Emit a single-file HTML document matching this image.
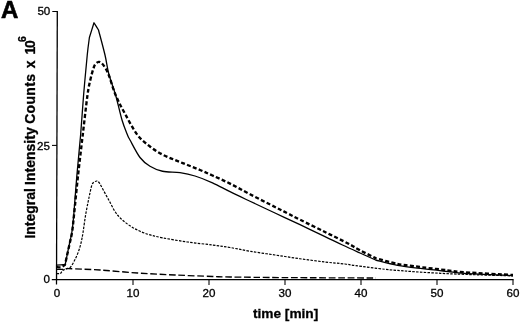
<!DOCTYPE html>
<html><head><meta charset="utf-8">
<style>
html,body{margin:0;padding:0;background:#fff;}
body{width:520px;height:322px;overflow:hidden;}
svg{display:block;}
text{font-family:"Liberation Sans",Arial,sans-serif;fill:#000;}
.b{font-weight:bold;}
.t{font-size:11.6px;}
</style></head><body>
<svg width="520" height="322" viewBox="0 0 520 322">
<rect width="520" height="322" fill="#fff"/>
<g stroke="#000" stroke-width="1.05" fill="none">
<path stroke-width="1.3" d="M57.3,11.5L56.5,284.5"/>
<path stroke-width="1.15" d="M51.8,279.6H513.6"/>
<path d="M52.3,11.5H57.9"/>
<path d="M52,145.4H57"/>
<path d="M133,279.5V285M209,279.5V285M285,279.5V285M361,279.5V285M437,279.5V285M513,279.5V285"/>
</g>
<g class="t" stroke="#000" stroke-width="0.3">
<text x="50.3" y="15.2" text-anchor="end">50</text>
<text x="49.9" y="149.5" text-anchor="end">25</text>
<text x="50" y="283.4" text-anchor="end">0</text>
<text x="57" y="296.8" text-anchor="middle">0</text>
<text x="133" y="296.8" text-anchor="middle">10</text>
<text x="209" y="296.8" text-anchor="middle">20</text>
<text x="285" y="296.8" text-anchor="middle">30</text>
<text x="361" y="296.8" text-anchor="middle">40</text>
<text x="437" y="296.8" text-anchor="middle">50</text>
<text x="513" y="296.8" text-anchor="middle">60</text>
</g>
<text class="b" x="0.9" y="17.9" font-size="24" stroke="#000" stroke-width="0.6">A</text>
<text class="b" x="285.6" y="317.9" font-size="13.7" text-anchor="middle" stroke="#000" stroke-width="0.3">time [min]</text>
<g class="b" font-size="14" stroke="#000" stroke-width="0.3">
<text transform="translate(34.9,238.6) rotate(-90)">Integral</text>
<text transform="translate(34.9,184.9) rotate(-90)">Intensity</text>
<text transform="translate(34.9,123.8) rotate(-90)" letter-spacing="0.3">Counts</text>
<text transform="translate(34.9,68.3) rotate(-90)">x</text>
<text transform="translate(34.9,54.4) rotate(-90)" letter-spacing="-1.3">10</text>
<text transform="translate(26.4,42.1) rotate(-90)" font-size="10.5">6</text>
</g>
<g fill="none" stroke="#000" stroke-linejoin="round">
<path stroke-width="1.35" stroke-dasharray="6.7 2.7" d="M56.50,269.30 C57.42,269.32 59.96,269.50 62.00,269.40 C64.04,269.30 62.42,268.60 68.75,268.70 C75.08,268.80 88.54,269.28 100.00,270.00 C111.46,270.72 125.00,272.17 137.50,273.00 C150.00,273.83 162.50,274.42 175.00,275.00 C187.50,275.58 203.33,276.17 212.50,276.50 C221.67,276.83 217.92,276.82 230.00,277.00 C242.08,277.18 260.67,277.43 285.00,277.60 C309.33,277.77 360.83,277.93 376.00,278.00"/>
<path stroke-width="1.2" stroke-dasharray="2.5 1.3" d="M56.50,273.60 C57.17,273.58 59.83,273.52 60.50,273.50 C60.92,272.97 62.04,271.08 63.00,270.30 C63.96,269.52 64.98,269.35 66.25,268.80 C67.52,268.25 69.14,268.55 70.60,267.00 C72.06,265.45 73.64,262.21 75.00,259.50 C76.36,256.79 77.71,253.67 78.75,250.75 C79.79,247.83 80.53,245.12 81.25,242.00 C81.97,238.88 82.38,236.50 83.10,232.00 C83.82,227.50 84.66,220.54 85.60,215.00 C86.54,209.46 87.70,203.75 88.75,198.75 C89.80,193.75 90.94,187.79 91.90,185.00 C92.86,182.21 93.67,182.67 94.50,182.00 C95.33,181.33 96.15,180.92 96.90,181.00 C97.65,181.08 98.28,181.62 99.00,182.50 C99.72,183.38 99.62,183.33 101.25,186.25 C102.88,189.17 106.04,195.21 108.75,200.00 C111.46,204.79 113.96,210.70 117.50,215.00 C121.04,219.30 125.42,222.75 130.00,225.80 C134.58,228.85 139.58,231.30 145.00,233.30 C150.42,235.30 155.42,236.35 162.50,237.80 C169.58,239.25 179.17,240.80 187.50,242.00 C195.83,243.20 205.42,244.08 212.50,245.00 C219.58,245.92 223.75,246.46 230.00,247.50 C236.25,248.54 242.50,250.00 250.00,251.25 C257.50,252.50 266.67,253.75 275.00,255.00 C283.33,256.25 291.67,257.58 300.00,258.75 C308.33,259.92 317.50,261.12 325.00,262.00 C332.50,262.88 340.00,263.42 345.00,264.00 C350.00,264.58 348.33,264.62 355.00,265.50 C361.67,266.38 377.50,268.45 385.00,269.30 C392.50,270.15 395.83,270.25 400.00,270.60 C404.17,270.95 404.17,271.00 410.00,271.40 C415.83,271.80 425.83,272.50 435.00,273.00 C444.17,273.50 452.00,273.92 465.00,274.40 C478.00,274.88 505.00,275.65 513.00,275.90"/>
<path stroke-width="2.35" stroke-dasharray="4 2.3" d="M56.50,267.00 C57.25,267.03 59.58,267.57 61.00,267.20 C62.42,266.83 64.33,265.20 65.00,264.80 C65.65,261.83 67.72,252.47 68.90,247.00 C70.08,241.53 71.25,237.33 72.10,232.00 C72.95,226.67 73.00,224.50 74.00,215.00 C75.00,205.50 76.64,188.33 78.10,175.00 C79.56,161.67 81.18,148.33 82.75,135.00 C84.32,121.67 86.19,104.38 87.50,95.00 C88.81,85.62 89.56,83.33 90.60,78.75 C91.64,74.17 92.85,70.04 93.75,67.50 C94.65,64.96 95.17,64.43 96.00,63.50 C96.83,62.57 97.83,61.98 98.75,61.90 C99.67,61.82 100.46,62.07 101.50,63.00 C102.54,63.93 103.79,65.50 105.00,67.50 C106.21,69.50 106.98,70.42 108.75,75.00 C110.52,79.58 112.89,88.54 115.60,95.00 C118.31,101.46 121.35,107.08 125.00,113.75 C128.65,120.42 133.33,129.54 137.50,135.00 C141.67,140.46 145.83,143.23 150.00,146.50 C154.17,149.77 158.33,152.35 162.50,154.60 C166.67,156.85 170.83,158.27 175.00,160.00 C179.17,161.73 183.33,163.33 187.50,165.00 C191.67,166.67 195.83,168.25 200.00,170.00 C204.17,171.75 207.50,173.23 212.50,175.50 C217.50,177.77 223.75,180.48 230.00,183.60 C236.25,186.72 242.50,190.30 250.00,194.20 C257.50,198.10 268.75,203.82 275.00,207.00 C281.25,210.18 283.33,211.18 287.50,213.30 C291.67,215.42 293.75,216.58 300.00,219.70 C306.25,222.82 317.08,228.08 325.00,232.00 C332.92,235.92 341.67,240.15 347.50,243.20 C353.33,246.25 355.32,247.82 360.00,250.30 C364.68,252.78 373.00,256.80 375.60,258.10 C379.25,259.08 391.77,262.75 397.50,264.00 C403.23,265.25 405.83,265.05 410.00,265.60 C414.17,266.15 416.25,266.52 422.50,267.30 C428.75,268.08 440.42,269.47 447.50,270.30 C454.58,271.13 454.08,271.52 465.00,272.30 C475.92,273.08 505.00,274.55 513.00,275.00"/>
<path stroke-width="1.3" d="M56.50,265.10 C57.95,265.00 63.75,264.60 65.20,264.50 C65.79,261.58 67.63,252.42 68.75,247.00 C69.87,241.58 71.07,237.33 71.90,232.00 C72.73,226.67 72.92,224.50 73.75,215.00 C74.58,205.50 75.76,188.33 76.90,175.00 C78.04,161.67 79.48,148.33 80.60,135.00 C81.72,121.67 82.49,108.33 83.60,95.00 C84.71,81.67 86.28,64.58 87.25,55.00 C88.22,45.42 89.04,40.42 89.40,37.50 C90.17,35.04 93.23,25.21 94.00,22.75 C94.75,23.96 97.75,28.79 98.50,30.00 C99.58,34.17 103.29,47.71 105.00,55.00 C106.71,62.29 106.98,67.08 108.75,73.75 C110.52,80.42 113.39,87.29 115.60,95.00 C117.81,102.71 120.02,113.33 122.00,120.00 C123.98,126.67 126.17,131.67 127.50,135.00 C128.83,138.33 127.92,136.25 130.00,140.00 C132.08,143.75 136.67,153.12 140.00,157.50 C143.33,161.88 146.25,163.96 150.00,166.25 C153.75,168.54 157.50,170.18 162.50,171.25 C167.50,172.32 174.58,171.91 180.00,172.70 C185.42,173.49 189.58,174.32 195.00,176.00 C200.42,177.68 206.67,180.18 212.50,182.80 C218.33,185.42 223.75,188.62 230.00,191.70 C236.25,194.77 242.50,197.70 250.00,201.25 C257.50,204.80 266.67,209.09 275.00,213.00 C283.33,216.91 291.67,220.77 300.00,224.70 C308.33,228.63 317.92,233.22 325.00,236.60 C332.08,239.98 336.67,242.27 342.50,245.00 C348.33,247.73 354.48,250.50 360.00,253.00 C365.52,255.50 373.00,258.83 375.60,260.00 C379.25,260.88 389.68,263.85 397.50,265.30 C405.32,266.75 414.17,267.67 422.50,268.70 C430.83,269.73 440.42,270.73 447.50,271.50 C454.58,272.27 454.08,272.62 465.00,273.30 C475.92,273.98 505.00,275.22 513.00,275.60"/>
</g>
</svg>
</body></html>
